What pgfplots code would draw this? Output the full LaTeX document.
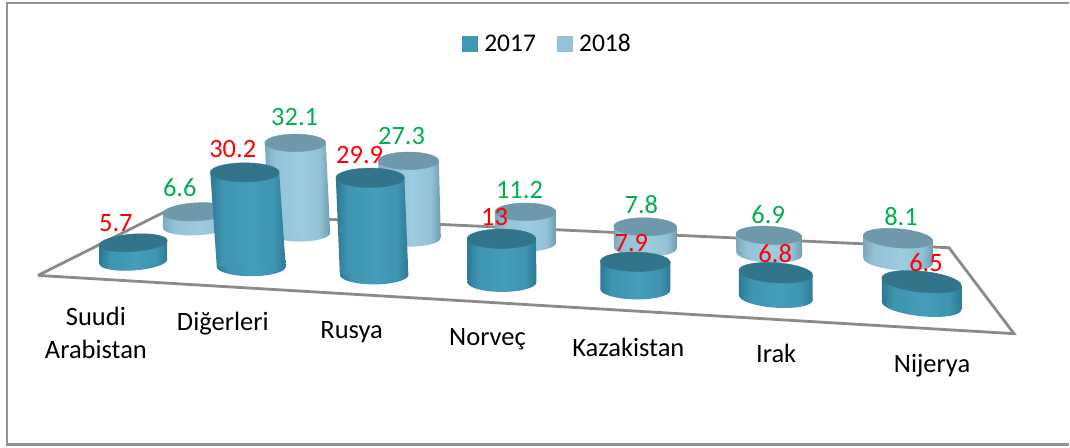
\documentclass[border=0pt]{standalone}
\usepackage{fontspec}
\setmainfont{Carlito}
\usepackage{pgfplots}
\usepackage{pgfplotstable}
\pgfplotsset{compat=1.18}
\definecolor{aEdgeL}{HTML}{2C7A95}
\definecolor{aNear}{HTML}{3E94B1}
\definecolor{aMid}{HTML}{449DBA}
\definecolor{aEdgeR}{HTML}{2D7B95}
\definecolor{aTop}{HTML}{327489}
\definecolor{aLeg}{HTML}{4098B4}
\definecolor{bEdgeL}{HTML}{7BA8BD}
\definecolor{bNear}{HTML}{93C2D7}
\definecolor{bMid}{HTML}{9DCCE1}
\definecolor{bEdgeR}{HTML}{6F9BB0}
\definecolor{bTop}{HTML}{6F99AB}
\definecolor{bLeg}{HTML}{92C3D8}
\definecolor{lineGray}{HTML}{8A8A8A}
\definecolor{frameGray}{HTML}{929292}
\definecolor{lblGreen}{HTML}{00B050}
\pgfdeclarehorizontalshading{cylShadeA}{100bp}{color(0bp)=(aEdgeL); color(25bp)=(aEdgeL); color(33bp)=(aNear); color(52bp)=(aMid); color(67bp)=(aNear); color(75bp)=(aEdgeR); color(100bp)=(aEdgeR)}
\pgfdeclarehorizontalshading{cylShadeB}{100bp}{color(0bp)=(bEdgeL); color(25bp)=(bEdgeL); color(33bp)=(bNear); color(52bp)=(bMid); color(67bp)=(bNear); color(75bp)=(bEdgeR); color(100bp)=(bEdgeR)}

% x,y = centre of the base ellipse; topx,topy = centre of the top ellipse (picture pixels)
\pgfplotstableread{
val  x     y    topx  topy  rx   ry   rot
6.6  197   226.5 197  212   34   9    3
32.1 300   233  295.6 143   30.5 8.8  0
27.3 411   238  409   161   30.3 8.8  0
11.2 526   243  526   212   30.5 8.8  0
7.8  646   248  646   227   31.5 9    -1
6.9  770   254  769.7 235.5 33   9    -3
8.1  899   261  899   238.5 35   9.5  -5
}\serieseighteen
\pgfplotstableread{
val  x     y    topx  topy  rx   ry   rot
5.7  133.5 262  133.5 243   34   8.7  4
30.2 251.5 267  245   172.5 34.5 9.5  0
29.9 374.5 275  370.5 178   34.3 9.7  0
13   502.5 282.5 502  239   34.5 9.7  0
7.9  636   290  636   262   35   9.7  -1
6.8  776.6 298  776.6 273   37   10   -4
6.5  922.5 306  922.5 282   40   10.5 -6
}\serieseventeen
\pgfplotstableread{
x   y   lab
116 223 5.7
233 149 30.2
360 155 29.9
495 217 13
632 243 7.9
776 254 6.8
927 263 6.5
}\lblseventeen
\pgfplotstableread{
x   y   lab
180 188 6.6
295 117 32.1
402 136 27.3
520 190 11.2
642 205 7.8
769 215 6.9
902 217 8.1
}\lbleighteen
\pgfplotstableread{
x   y   lab
96  317 Suudi
96  350 Arabistan
223 324 Diğerleri
352 332 Rusya
488 340 Norveç
629 348 Kazakistan
777 354 Irak
933 366 Nijerya
}\lblcat

\newcommand{\cylshape}[2]{%
  \shade[shading=#1,draw=none]
    (0pt,0pt) ellipse [x radius=\crx pt,y radius=\cry pt,rotate=\crot];
  \shade[shading=#1,draw=none]
    ({-\crx*cos(\crot)*1pt},{-\crx*sin(\crot)*1pt}) --
    ({\crx*cos(\crot)*1pt},{\crx*sin(\crot)*1pt}) --
    ({(\cdx+\crx*cos(\crot))*1pt},{(\ch+\crx*sin(\crot))*1pt}) --
    ({(\cdx-\crx*cos(\crot))*1pt},{(\ch-\crx*sin(\crot))*1pt}) -- cycle;
  \fill[#2]
    (\cdx pt,\ch pt) ellipse [x radius=\crx pt,y radius=\cry pt,rotate=\crot];
}
\pgfdeclareplotmark{cylA}{\cylshape{cylShadeA}{aTop}}
\pgfdeclareplotmark{cylB}{\cylshape{cylShadeB}{bTop}}

\pgfplotsset{
  cylinders/.style={
    scatter, only marks, forget plot, mark=#1,
    point meta=\thisrow{val},
    visualization depends on={\thisrow{topx}-\thisrow{x}\as\cdx},
    visualization depends on={\thisrow{y}-\thisrow{topy}\as\ch},
    visualization depends on={\thisrow{rx}\as\crx},
    visualization depends on={\thisrow{ry}\as\cry},
    visualization depends on={\thisrow{rot}\as\crot},
  },
  labelled/.style 2 args={
    only marks, mark=none, forget plot,
    point meta=explicit symbolic,
    nodes near coords={\pgfplotspointmeta},
    every node near coord/.style={anchor=center,inner sep=0pt,text=#1,font=\fontsize{#2}{#2}\selectfont},
  },
}

\begin{document}
\begin{tikzpicture}
\begin{axis}[
  scale only axis, width=1070pt, height=448pt,
  xmin=0, xmax=1070, ymin=0, ymax=448, y dir=reverse,
  hide axis, clip=false,
  legend style={at={(axis cs:548,44)},anchor=center,draw=none,fill=none,
    font=\fontsize{25.5}{30}\selectfont, legend columns=2,
    /tikz/every even column/.append style={column sep=19pt}},
]
\addplot[draw=none,forget plot] coordinates {(0,0) (1070,448)};
\addplot[frameGray,line width=2.2pt,forget plot] coordinates {(1070,3) (7,3) (7,445) (1070,445)};
\addplot[lineGray,line width=2.8pt,line join=miter,forget plot] coordinates {(38,275.7) (165,212) (950,248) (1015,334) (38,275.7)};
\addplot[cylinders=cylB] table[x=x,y=y] {\serieseighteen};
\addplot[cylinders=cylA] table[x=x,y=y] {\serieseventeen};
\addplot[labelled={red}{26.5}] table[x=x,y=y,meta=lab] {\lblseventeen};
\addplot[labelled={lblGreen}{26.5}] table[x=x,y=y,meta=lab] {\lbleighteen};
\addplot[labelled={black}{26.5}] table[x=x,y=y,meta=lab] {\lblcat};
\addlegendimage{legend image code/.code={\fill[aLeg] (0pt,-7.5pt) rectangle (15pt,7.5pt);\path[draw=none] (0pt,0pt) -- (20pt,0pt);}}
\addlegendentry{2017}
\addlegendimage{legend image code/.code={\fill[bLeg] (0pt,-7.5pt) rectangle (15pt,7.5pt);\path[draw=none] (0pt,0pt) -- (20pt,0pt);}}
\addlegendentry{2018}
\end{axis}
\end{tikzpicture}
\end{document}
